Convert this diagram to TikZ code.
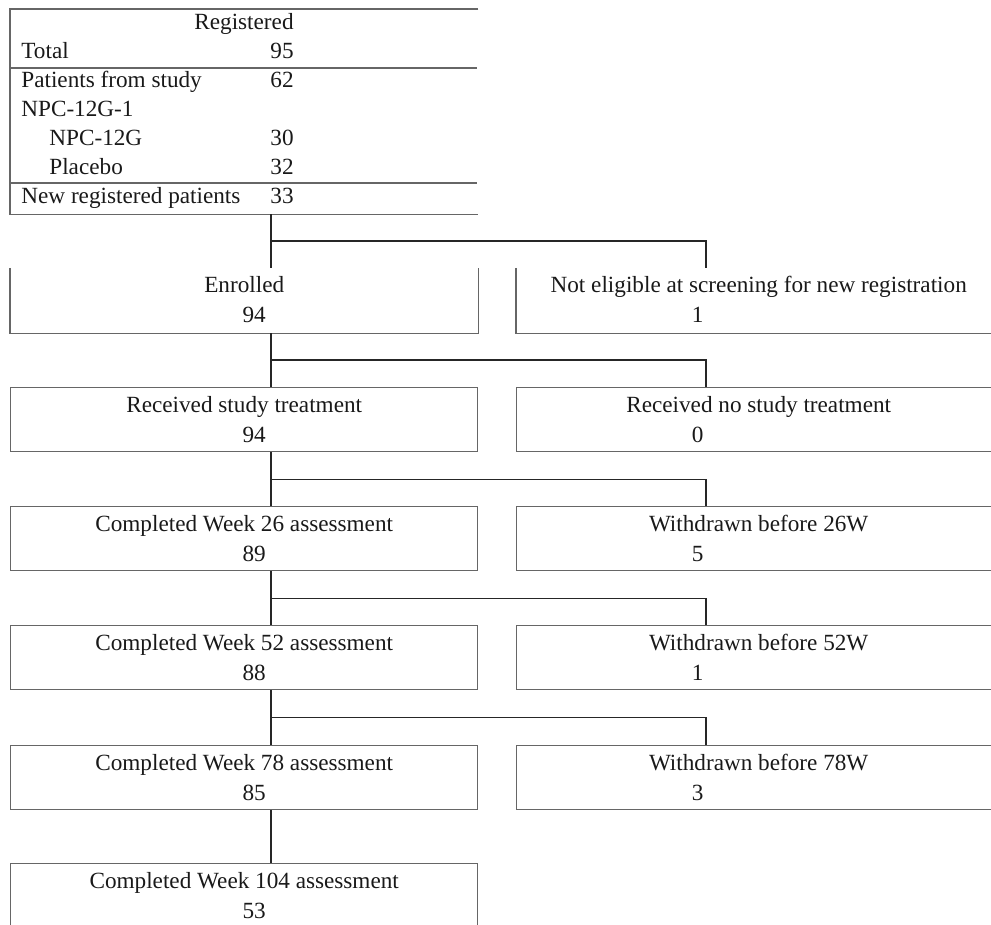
\documentclass[tikz,border=0pt]{standalone}
\usepackage{fontspec}
\setmainfont{Liberation Serif}
\usetikzlibrary{calc}

\begin{document}
\begin{tikzpicture}[x=0.5pt,y=-0.5pt,
  lbox/.style={draw=black!60,line width=0.7pt,minimum width=233.5pt,minimum height=32pt,inner sep=0pt,anchor=north west},
  rbox/.style={lbox,minimum width=242pt},
  openl/.style={lbox,draw=none},
  openr/.style={rbox,draw=none},
  txt/.style={font=\fontsize{11.6}{14}\selectfont,text=black!90,inner sep=0pt,text height=8pt,text depth=2.5pt},
  conn/.style={draw=black!85,line width=0.7pt}]

\useasboundingbox (0,0) rectangle (991,925);

% registered table
\node[openl,minimum height=102pt] (reg) at (10,9) {};
\draw[black!60,line width=0.7pt] (reg.north east) -- (reg.north west) -- (reg.south west) -- (reg.south east);
\draw[black!60,line width=0.7pt] (10,68) -- (477,68);
\draw[black!60,line width=0.7pt] (10,183) -- (477,183);
\node[txt] (regt) at (244,24) {Registered};
\node[txt,anchor=west] (tot) at (21,53) {Total};
\node[txt,anchor=west] (totn) at (270,53) {95};
\node[txt,anchor=west] (pfs) at (21,82) {Patients from study};
\node[txt,anchor=west] (pfsn) at (270,82) {62};
\node[txt,anchor=west] (npc1) at (21,111) {NPC-12G-1};
\node[txt,anchor=west] (npc) at (49,140) {NPC-12G};
\node[txt,anchor=west] (npcn) at (270,140) {30};
\node[txt,anchor=west] (plc) at (49,169) {Placebo};
\node[txt,anchor=west] (plcn) at (270,169) {32};
\node[txt,anchor=west] (newp) at (21,198) {New registered patients};
\node[txt,anchor=west] (newn) at (270,198) {33};

% boxes on the left
\node[openl] (enr) at (10,268) {};
\node[lbox] (rec) at (10,387) {};
\node[lbox] (wk26) at (10,506) {};
\node[lbox] (wk52) at (10,625) {};
\node[lbox] (wk78) at (10,745) {};
\node[lbox] (wk104) at (10,863) {};
\draw[black!60,line width=0.7pt] (enr.north west) -- (enr.south west) -- (enr.south east) -- (enr.north east);

% boxes on the right
\node[openr] (inel) at (516,268) {};
\node[rbox] (norec) at (516,387) {};
\node[rbox] (wd26) at (516,506) {};
\node[rbox] (wd52) at (516,625) {};
\node[rbox] (wd78) at (516,745) {};
\draw[black!60,line width=0.7pt] (inel.north west) -- (inel.south west) -- (inel.south east) -- (inel.north east);

% texts in the boxes
\node[txt] (enrt) at ($(enr.north)+(0,19)$) {Enrolled};
\node[txt] (enrn) at ($(enr.north)+(10,49)$) {94};
\node[txt] (rect) at ($(rec.north)+(0,20)$) {Received study treatment};
\node[txt] (recn) at ($(rec.north)+(10,50)$) {94};
\node[txt] (wk26t) at ($(wk26.north)+(0,20)$) {Completed Week 26 assessment};
\node[txt] (wk26n) at ($(wk26.north)+(10,50)$) {89};
\node[txt] (wk52t) at ($(wk52.north)+(0,20)$) {Completed Week 52 assessment};
\node[txt] (wk52n) at ($(wk52.north)+(10,50)$) {88};
\node[txt] (wk78t) at ($(wk78.north)+(0,20)$) {Completed Week 78 assessment};
\node[txt] (wk78n) at ($(wk78.north)+(10,50)$) {85};
\node[txt] (wk104t) at ($(wk104.north)+(0,20)$) {Completed Week 104 assessment};
\node[txt] (wk104n) at ($(wk104.north)+(10,50)$) {53};

\node[txt] (inelt) at ($(inel.north)+(0,19)$) {Not eligible at screening for new registration};
\node[txt] (ineln) at ($(inel.north)+(-61,49)$) {1};
\node[txt] (norect) at ($(norec.north)+(0,20)$) {Received no study treatment};
\node[txt] (norecn) at ($(norec.north)+(-61,50)$) {0};
\node[txt] (wd26t) at ($(wd26.north)+(0,20)$) {Withdrawn before 26W};
\node[txt] (wd26n) at ($(wd26.north)+(-61,50)$) {5};
\node[txt] (wd52t) at ($(wd52.north)+(0,20)$) {Withdrawn before 52W};
\node[txt] (wd52n) at ($(wd52.north)+(-61,50)$) {1};
\node[txt] (wd78t) at ($(wd78.north)+(0,20)$) {Withdrawn before 78W};
\node[txt] (wd78n) at ($(wd78.north)+(-61,50)$) {3};

% connectors
\coordinate (trunk) at (271,0);
\coordinate (branch) at (706,0);
\draw[conn] (reg.south -| trunk) -- (enr.north -| trunk);
\draw[conn] ($(reg.south -| trunk)!.5!(enr.north -| trunk)$) -| (inel.north -| branch);
\draw[conn] (enr.south -| trunk) -- (rec.north -| trunk);
\draw[conn] ($(enr.south -| trunk)!.5!(rec.north -| trunk)$) -| (norec.north -| branch);
\draw[conn] (rec.south -| trunk) -- (wk26.north -| trunk);
\draw[conn] ($(rec.south -| trunk)!.5!(wk26.north -| trunk)$) -| (wd26.north -| branch);
\draw[conn] (wk26.south -| trunk) -- (wk52.north -| trunk);
\draw[conn] ($(wk26.south -| trunk)!.5!(wk52.north -| trunk)$) -| (wd52.north -| branch);
\draw[conn] (wk52.south -| trunk) -- (wk78.north -| trunk);
\draw[conn] ($(wk52.south -| trunk)!.5!(wk78.north -| trunk)$) -| (wd78.north -| branch);
\draw[conn] (wk78.south -| trunk) -- (wk104.north -| trunk);

\end{tikzpicture}
\end{document}
